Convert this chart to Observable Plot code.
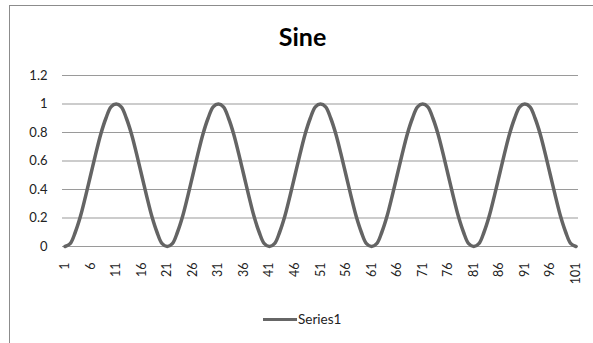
<!DOCTYPE html>
<html>
<head>
<meta charset="utf-8">
<script src="https://cdn.jsdelivr.net/npm/d3@7"></script>
<script src="https://cdn.jsdelivr.net/npm/@observablehq/plot@0.6"></script>
<style>
  html, body { margin: 0; padding: 0; background: #fff; }
  #wrap { position: relative; width: 593px; height: 343px; overflow: hidden; font-family: Lato, "Open Sans", sans-serif; }
  #frame { position: absolute; left: 9px; top: 5px; width: 700px; height: 500px; border: 1px solid #8c8c8c; box-sizing: border-box; }
  #title { position: absolute; left: 9px; width: 587px; top: 21px; text-align: center; font-weight: bold; font-size: 25px; color: #000; }
  #chart { position: absolute; left: 0; top: 0; }
  #legend { position: absolute; left: 263px; top: 311px; display: flex; align-items: center; font-size: 13.5px; color: #222; }
  #legend .sw { width: 34px; height: 3px; background: #666; margin-right: 1px; }
</style>
</head>
<body>
<div id="wrap">
  <div id="frame"></div>
  <div id="title">Sine</div>
  <div id="chart"></div>
  <div id="legend"><span class="sw"></span><span>Series1</span></div>
</div>
<script>
const categories = d3.range(1, 102);
const series1 = [
  0, 0.02, 0.10, 0.21, 0.35, 0.50, 0.65, 0.79, 0.90, 0.98,
  1, 0.98, 0.90, 0.79, 0.65, 0.50, 0.35, 0.21, 0.10, 0.02,
  0, 0.02, 0.10, 0.21, 0.35, 0.50, 0.65, 0.79, 0.90, 0.98,
  1, 0.98, 0.90, 0.79, 0.65, 0.50, 0.35, 0.21, 0.10, 0.02,
  0, 0.02, 0.10, 0.21, 0.35, 0.50, 0.65, 0.79, 0.90, 0.98,
  1, 0.98, 0.90, 0.79, 0.65, 0.50, 0.35, 0.21, 0.10, 0.02,
  0, 0.02, 0.10, 0.21, 0.35, 0.50, 0.65, 0.79, 0.90, 0.98,
  1, 0.98, 0.90, 0.79, 0.65, 0.50, 0.35, 0.21, 0.10, 0.02,
  0, 0.02, 0.10, 0.21, 0.35, 0.50, 0.65, 0.79, 0.90, 0.98,
  1, 0.98, 0.90, 0.79, 0.65, 0.50, 0.35, 0.21, 0.10, 0.02,
  0
];
const xTicks = [1, 6, 11, 16, 21, 26, 31, 36, 41, 46, 51, 56, 61, 66, 71, 76, 81, 86, 91, 96, 101];
const yTicks = [0, 0.2, 0.4, 0.6, 0.8, 1, 1.2];

const data = categories.map((c, i) => ({x: c, y: series1[i]}));

const chart = Plot.plot({
  width: 593,
  height: 300,
  marginLeft: 62,
  marginRight: 15,
  marginTop: 75,
  marginBottom: 54,
  style: {fontFamily: "Lato, 'Open Sans', sans-serif", fontSize: "12.5px", color: "#222", background: "transparent"},
  x: {domain: [0.5, 101.5], ticks: xTicks, tickFormat: d => String(d), tickRotate: -90, tickSize: 0, tickPadding: 16, label: null},
  y: {domain: [0, 1.2], ticks: yTicks, tickFormat: d => String(+d.toFixed(1)), tickSize: 0, tickPadding: 15, label: null},
  marks: [
    Plot.ruleY(yTicks, {stroke: "#9a9a9a", strokeWidth: 1.2}),
    Plot.line(data, {x: "x", y: "y", stroke: "#646464", strokeWidth: 3.5, curve: "catmull-rom"})
  ]
});
chart.querySelectorAll("[aria-label='y-axis tick label'] text").forEach(t => t.style.fontSize = "13px");
document.getElementById("chart").appendChild(chart);
</script>
</body>
</html>
